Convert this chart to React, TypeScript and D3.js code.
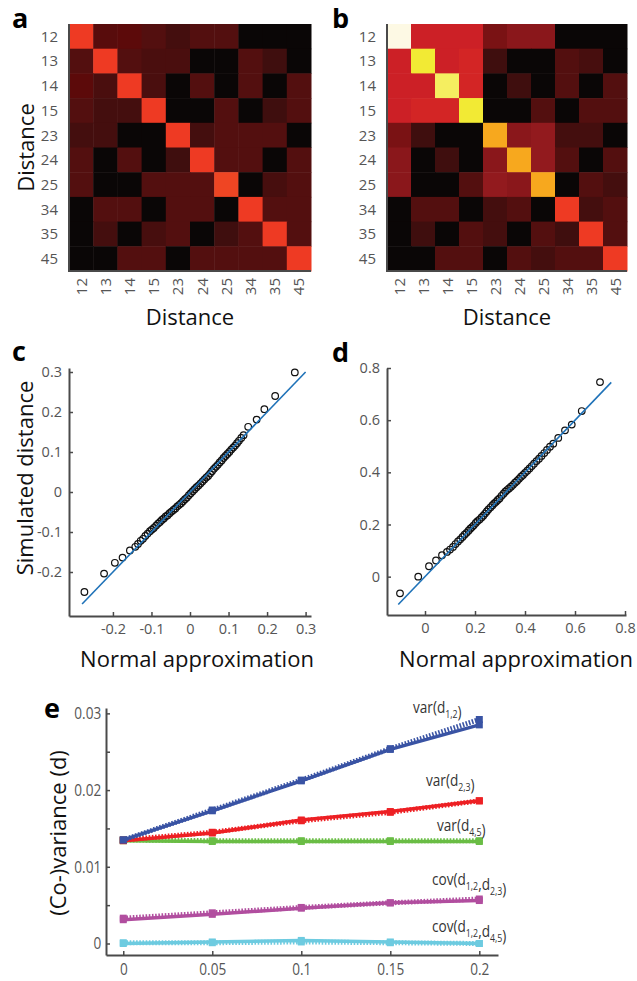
import React, { useEffect, useRef } from "react";
import * as d3 from "d3";

// distance pairs used on both heatmap axes
const distLabels = ["12", "13", "14", "15", "23", "24", "25", "34", "35", "45"];

// panel a: correlation of simulated distances (0 = clipped / black)
const corrA = [
  [0.7, 0.29, 0.31, 0.26, 0.21, 0.26, 0.26, 0, 0, 0],
  [0.26, 0.7, 0.26, 0.23, 0.23, 0, 0, 0.26, 0.19, 0],
  [0.31, 0.23, 0.7, 0.23, 0, 0.26, 0, 0.26, 0, 0.26],
  [0.26, 0.21, 0.21, 0.7, 0, 0, 0.26, 0, 0.19, 0.26],
  [0.21, 0.21, 0, 0, 0.7, 0.21, 0.26, 0.26, 0.26, 0],
  [0.26, 0, 0.26, 0, 0.19, 0.7, 0.26, 0.26, 0, 0.26],
  [0.26, 0, 0, 0.26, 0.26, 0.26, 0.71, 0, 0.22, 0.26],
  [0, 0.26, 0.26, 0, 0.26, 0.26, 0, 0.7, 0.26, 0.26],
  [0, 0.21, 0, 0.22, 0.26, 0, 0.19, 0.26, 0.7, 0.26],
  [0, 0, 0.26, 0.26, 0, 0.26, 0.26, 0.26, 0.26, 0.7],
];

// panel b
const corrB = [
  [1.0, 0.5, 0.5, 0.5, 0.38, 0.42, 0.42, 0, 0, 0],
  [0.5, 0.92, 0.5, 0.54, 0.19, 0, 0, 0.26, 0.22, 0],
  [0.5, 0.5, 0.94, 0.54, 0, 0.19, 0, 0.26, 0, 0.26],
  [0.5, 0.54, 0.54, 0.92, 0, 0, 0.26, 0, 0.26, 0.26],
  [0.38, 0.19, 0, 0, 0.8, 0.42, 0.44, 0.21, 0.21, 0],
  [0.42, 0, 0.19, 0, 0.42, 0.8, 0.44, 0.26, 0, 0.26],
  [0.42, 0, 0, 0.26, 0.44, 0.42, 0.8, 0, 0.26, 0.21],
  [0, 0.26, 0.26, 0, 0.21, 0.26, 0, 0.7, 0.21, 0.26],
  [0, 0.19, 0, 0.26, 0.21, 0, 0.26, 0.19, 0.7, 0.26],
  [0, 0, 0.26, 0.26, 0, 0.26, 0.21, 0.26, 0.26, 0.7],
];

const heatStops = [0, 0.12, 0.26, 0.31, 0.38, 0.44, 0.5, 0.7, 0.8, 0.92, 1];
const heatColors = ["#0a0606", "#2a0c0c", "#530f0f", "#5c0a0a", "#7a1214", "#921a1e", "#cc2026", "#ee3a23", "#f7a81e", "#f2ea34", "#fdf9e4"];

// panel c: QQ plot
const qqCNormal = [-0.274, -0.223, -0.195, -0.175, -0.156, -0.142, -0.135, -0.128, -0.122, -0.116, -0.11, -0.104, -0.099, -0.094, -0.088, -0.083, -0.078, -0.073, -0.068, -0.063, -0.058, -0.053, -0.048, -0.043, -0.038, -0.033, -0.028, -0.023, -0.018, -0.013, -0.008, -0.003, 0.002, 0.007, 0.012, 0.017, 0.022, 0.027, 0.032, 0.037, 0.042, 0.047, 0.052, 0.057, 0.062, 0.067, 0.072, 0.077, 0.082, 0.087, 0.092, 0.097, 0.102, 0.107, 0.112, 0.117, 0.122, 0.127, 0.133, 0.139, 0.151, 0.173, 0.193, 0.221, 0.272];
const qqCSim = [-0.25, -0.204, -0.177, -0.164, -0.146, -0.137, -0.13, -0.122, -0.117, -0.11, -0.104, -0.098, -0.094, -0.09, -0.084, -0.079, -0.075, -0.07, -0.066, -0.061, -0.058, -0.053, -0.049, -0.045, -0.041, -0.036, -0.032, -0.028, -0.023, -0.018, -0.014, -0.008, -0.003, 0.002, 0.007, 0.012, 0.016, 0.021, 0.026, 0.031, 0.036, 0.04, 0.046, 0.052, 0.058, 0.063, 0.068, 0.074, 0.079, 0.085, 0.09, 0.095, 0.1, 0.106, 0.111, 0.116, 0.122, 0.128, 0.135, 0.142, 0.163, 0.181, 0.207, 0.24, 0.299];
const refLineC = [-0.28, 0.3];

// panel d
const qqDNormal = [-0.1, -0.027, 0.016, 0.044, 0.068, 0.088, 0.1, 0.112, 0.122, 0.132, 0.141, 0.15, 0.158, 0.166, 0.174, 0.181, 0.188, 0.195, 0.203, 0.21, 0.218, 0.226, 0.233, 0.24, 0.247, 0.254, 0.262, 0.27, 0.277, 0.284, 0.291, 0.298, 0.306, 0.314, 0.321, 0.328, 0.336, 0.344, 0.352, 0.36, 0.368, 0.376, 0.384, 0.392, 0.4, 0.409, 0.418, 0.427, 0.436, 0.446, 0.456, 0.466, 0.477, 0.488, 0.5, 0.513, 0.533, 0.56, 0.587, 0.627, 0.7];
const qqDSim = [-0.064, 0.0, 0.04, 0.062, 0.082, 0.095, 0.104, 0.114, 0.125, 0.135, 0.143, 0.152, 0.161, 0.168, 0.176, 0.184, 0.19, 0.197, 0.206, 0.213, 0.219, 0.227, 0.234, 0.242, 0.25, 0.258, 0.266, 0.274, 0.281, 0.287, 0.294, 0.3, 0.31, 0.318, 0.326, 0.332, 0.338, 0.345, 0.352, 0.36, 0.367, 0.375, 0.383, 0.39, 0.398, 0.406, 0.415, 0.424, 0.433, 0.443, 0.452, 0.463, 0.474, 0.486, 0.498, 0.51, 0.532, 0.561, 0.583, 0.635, 0.746];
const refLineD = [-0.107, 0.745];

// panel e: (co-)variances, solid = simulated, dotted = approximation
const noiseLevels = [0, 0.05, 0.1, 0.15, 0.2];
const var12 = [0.0135, 0.0173, 0.0212, 0.0253, 0.0285];
const var12Approx = [0.0135, 0.0174, 0.0213, 0.0254, 0.0292];
const var23 = [0.0134, 0.0144, 0.0161, 0.0172, 0.0186];
const var23Approx = [0.0135, 0.0145, 0.016, 0.0171, 0.0186];
const var45 = [0.0134, 0.0133, 0.0133, 0.0133, 0.0133];
const var45Approx = [0.0135, 0.0134, 0.0134, 0.0134, 0.0134];
const cov1223 = [0.0031, 0.0038, 0.0046, 0.0053, 0.0056];
const cov1223Approx = [0.0033, 0.004, 0.0047, 0.0053, 0.0058];
const cov1245 = [0.0, 0.0002, 0.0004, 0.0002, 0.0];
const cov1245Approx = [0.0001, 0.0001, 0.0002, 0.0001, 0.0];

const seriesColors = ["#3953a4", "#ed2024", "#6abd45", "#b14e9f", "#6dcbe0"];
const seriesLabels = [
  [["var(d", 0], ["1,2", 1], [")", 0]],
  [["var(d", 0], ["2,3", 1], [")", 0]],
  [["var(d", 0], ["4,5", 1], [")", 0]],
  [["cov(d", 0], ["1,2", 1], [",d", 0], ["2,3", 1], [")", 0]],
  [["cov(d", 0], ["1,2", 1], [",d", 0], ["4,5", 1], [")", 0]],
];

const FONT = "'Open Sans', sans-serif";
const AXIS = "#4a4a4a";
const TICK_TEXT = "#555";

const App = () => {
  const ref = useRef<SVGSVGElement>(null);

  useEffect(() => {
    const svg = d3.select(ref.current);
    svg.selectAll("*").remove();
    svg.attr("font-family", FONT);

    const color = d3.scaleLinear<string>().domain(heatStops).range(heatColors).clamp(true);

    const letter = (t: string, x: number, y: number) =>
      svg.append("text").attr("x", x).attr("y", y).attr("font-size", 27).attr("font-weight", "bold").attr("fill", "#000").text(t);

    // ---------- heatmaps ----------
    const heatmap = (mat: number[][], x0: number, x1: number, y0: number, y1: number, yTitle: boolean) => {
      const g = svg.append("g");
      const xb = d3.scaleBand().domain(distLabels).range([x0, x1]);
      const yb = d3.scaleBand().domain(distLabels).range([y0, y1]);
      mat.forEach((row, i) => {
        g.selectAll(null)
          .data(row)
          .enter()
          .append("rect")
          .attr("x", (_, j) => xb(distLabels[j])!)
          .attr("y", yb(distLabels[i])!)
          .attr("width", xb.bandwidth() + 0.5)
          .attr("height", yb.bandwidth() + 0.5)
          .attr("fill", d => color(d));
      });
      g.append("path")
        .attr("d", `M${x0},${y0}V${y1}H${x1}`)
        .attr("fill", "none").attr("stroke", AXIS).attr("stroke-width", 2);
      g.selectAll(null).data(distLabels).enter().append("text")
        .attr("x", x0 - 11)
        .attr("y", d => yb(d)! + yb.bandwidth() / 2)
        .attr("dy", "0.36em")
        .attr("text-anchor", "end")
        .attr("font-size", 15).attr("fill", TICK_TEXT)
        .text(d => d);
      g.selectAll(null).data(distLabels).enter().append("text")
        .attr("transform", d => `translate(${xb(d)! + xb.bandwidth() / 2 + 5.5},${y1 + 7}) rotate(-90)`)
        .attr("text-anchor", "end")
        .attr("font-size", 15).attr("fill", TICK_TEXT)
        .text(d => d);
      g.append("text").attr("x", (x0 + x1) / 2).attr("y", 325).attr("text-anchor", "middle")
        .attr("font-size", 22).attr("fill", "#111").text("Distance");
      if (yTitle) {
        g.append("text").attr("transform", `translate(34,${(y0 + y1) / 2}) rotate(-90)`)
          .attr("text-anchor", "middle").attr("font-size", 22).attr("fill", "#111").text("Distance");
      }
    };
    heatmap(corrA, 69, 311, 24, 271, true);
    heatmap(corrB, 387, 627, 24, 271, false);
    letter("a", 12, 28);
    letter("b", 332, 28);

    // ---------- QQ plots ----------
    const qq = (nx: number[], sy: number[], line: number[], xs: d3.ScaleLinear<number, number>, ys: d3.ScaleLinear<number, number>, xt: number[], yt: number[]) => {
      const g = svg.append("g");
      const fmt = (d: d3.NumberValue) => String(+d);
      const [px0] = xs.range();
      const [py0] = ys.range();
      g.append("g").attr("transform", `translate(${px0},0)`)
        .call(d3.axisLeft(ys).tickValues(yt).tickSize(-4).tickSizeOuter(0).tickPadding(7).tickFormat(fmt));
      g.append("g").attr("transform", `translate(0,${py0})`)
        .call(d3.axisBottom(xs).tickValues(xt).tickSize(-4).tickSizeOuter(0).tickPadding(8).tickFormat(fmt));
      g.selectAll(".domain").attr("stroke", AXIS).attr("stroke-width", 2);
      g.selectAll(".tick line").attr("stroke", AXIS).attr("stroke-width", 1.5);
      g.selectAll(".tick text").attr("font-size", 14.5).attr("fill", TICK_TEXT).attr("font-family", FONT);

      g.selectAll(null).data(nx).enter().append("circle")
        .attr("cx", d => xs(d)).attr("cy", (_, i) => ys(sy[i])).attr("r", 3.3)
        .attr("fill", "none").attr("stroke", "#111").attr("stroke-width", 1.2);
      g.append("line")
        .attr("x1", xs(line[0])).attr("y1", ys(line[0]))
        .attr("x2", xs(line[1])).attr("y2", ys(line[1]))
        .attr("stroke", "#1f72b8").attr("stroke-width", 1.6);
    };
    const xC = d3.scaleLinear().domain([-0.314, 0.314]).range([69, 311]);
    const yC = d3.scaleLinear().domain([-0.31, 0.31]).range([616, 368]);
    qq(qqCNormal, qqCSim, refLineC, xC, yC, [-0.2, -0.1, 0, 0.1, 0.2, 0.3], [-0.2, -0.1, 0, 0.1, 0.2, 0.3]);
    const xD = d3.scaleLinear().domain([-0.152, 0.804]).range([387, 626]);
    const yD = d3.scaleLinear().domain([-0.147, 0.8]).range([615, 368]);
    qq(qqDNormal, qqDSim, refLineD, xD, yD, [0, 0.2, 0.4, 0.6, 0.8], [0, 0.2, 0.4, 0.6, 0.8]);

    svg.append("text").attr("transform", "translate(33,478) rotate(-90)").attr("text-anchor", "middle")
      .attr("font-size", 22).attr("fill", "#111").text("Simulated distance");
    svg.append("text").attr("x", 197).attr("y", 667).attr("text-anchor", "middle")
      .attr("font-size", 22).attr("fill", "#111").text("Normal approximation");
    svg.append("text").attr("x", 516).attr("y", 667).attr("text-anchor", "middle")
      .attr("font-size", 22).attr("fill", "#111").text("Normal approximation");
    letter("c", 12, 361);
    letter("d", 332, 362);

    // ---------- panel e ----------
    const xE = d3.scaleLinear().domain([-0.0097, 0.2105]).range([106, 498]);
    const yE = d3.scaleLinear().domain([-0.0015, 0.0307]).range([955, 708]);
    const ge = svg.append("g");
    const condensed = "scale(0.8,1)";
    ge.append("g").attr("transform", "translate(106,0)")
      .call(d3.axisLeft(yE).tickValues([0, 0.005, 0.01, 0.015, 0.02, 0.025, 0.03]).tickSize(-4).tickSizeOuter(0).tickPadding(6)
        .tickFormat(d => ((+d * 1000) % 10 === 0 ? String(+d) : "")));
    ge.append("g").attr("transform", "translate(0,955)")
      .call(d3.axisBottom(xE).tickValues(noiseLevels).tickSize(-4).tickSizeOuter(0).tickPadding(8).tickFormat(d => String(+d)));
    ge.selectAll(".domain").attr("stroke", AXIS).attr("stroke-width", 2);
    ge.selectAll(".tick line").attr("stroke", AXIS).attr("stroke-width", 1.5);
    ge.selectAll(".tick text").attr("font-size", 17).attr("fill", TICK_TEXT).attr("font-family", FONT)
      .attr("transform", condensed);

    const solid = [var12, var23, var45, cov1223, cov1245];
    const dotted = [var12Approx, var23Approx, var45Approx, cov1223Approx, cov1245Approx];
    const line = d3.line<number>().x((_, i) => xE(noiseLevels[i])).y(d => yE(d));

    // draw bottom series first so blue ends on top
    [4, 3, 2, 1, 0].forEach(k => {
      const c = seriesColors[k];
      ge.append("path").attr("d", line(solid[k])).attr("fill", "none").attr("stroke", c).attr("stroke-width", 3.5);
      ge.append("path").attr("d", line(dotted[k])).attr("fill", "none").attr("stroke", c)
        .attr("stroke-width", 5).attr("stroke-dasharray", "1.6,1.6");
      [solid[k], dotted[k]].forEach(vals => {
        ge.selectAll(null).data(vals).enter().append("rect")
          .attr("x", (_, i) => xE(noiseLevels[i]) - 3.5)
          .attr("y", d => yE(d) - 3.5)
          .attr("width", 7).attr("height", 7).attr("fill", c);
      });
    });

    const labelPos = [[413, 713], [426, 786], [437, 831], [432, 885], [432, 932]];
    seriesLabels.forEach((parts, k) => {
      const t = ge.append("text")
        .attr("transform", `translate(${labelPos[k][0]},${labelPos[k][1]}) ${condensed}`)
        .attr("font-size", 17).attr("fill", "#333");
      parts.forEach(([s, sub]) => {
        t.append("tspan").attr("font-size", sub ? 11 : 17).attr("dy", sub ? 5 : 0).text(s as string);
        if (sub) t.append("tspan").attr("dy", -5).text("");
      });
    });
    svg.append("text").attr("transform", "translate(66,833) rotate(-90)").attr("text-anchor", "middle")
      .attr("font-size", 22).attr("fill", "#111").text("(Co-)variance (d)");
    letter("e", 44, 718);
  }, []);

  return <svg ref={ref} width={637} height={981} style={{ position: "absolute", left: 0, top: 0, background: "#fff" }} />;
};

export default App;
